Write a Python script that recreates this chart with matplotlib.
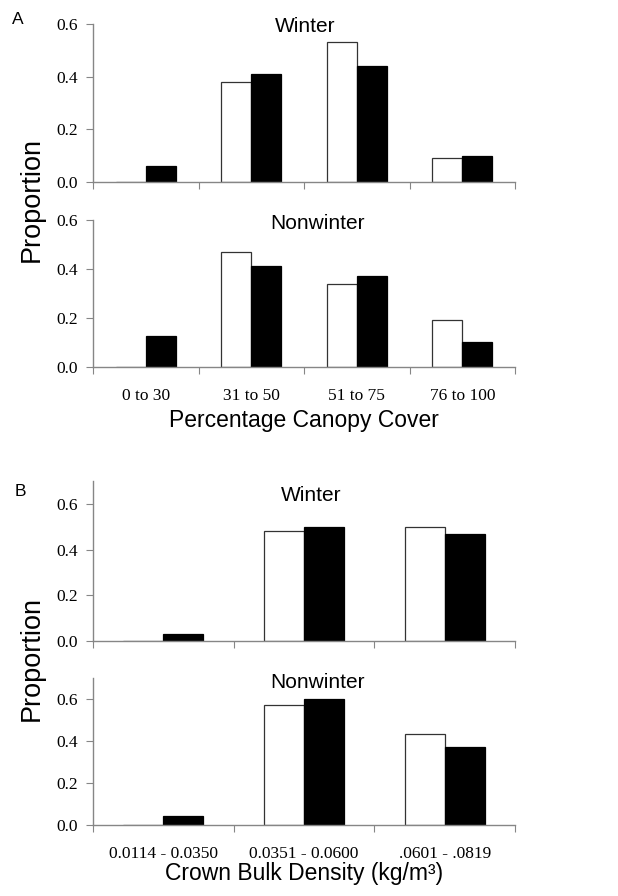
import numpy as np
import matplotlib
matplotlib.use("Agg")
import matplotlib.pyplot as plt

# ---- data ----
canopy_cats = ['0 to 30', '31 to 50', '51 to 75', '76 to 100']
canopy_winter_white = [0.0, 0.38, 0.53, 0.09]
canopy_winter_black = [0.06, 0.41, 0.44, 0.10]
canopy_nonwinter_white = [0.0, 0.47, 0.34, 0.19]
canopy_nonwinter_black = [0.125, 0.41, 0.37, 0.10]

density_cats = ['0.0114 - 0.0350', '0.0351 - 0.0600', '.0601 - .0819']
density_winter_white = [0.0, 0.48, 0.50]
density_winter_black = [0.03, 0.50, 0.47]
density_nonwinter_white = [0.0, 0.57, 0.43]
density_nonwinter_black = [0.04, 0.60, 0.37]

yticks = [0.0, 0.2, 0.4, 0.6]

W, H = 618, 896
fig = plt.figure(figsize=(W / 100, H / 100), dpi=100)

SANS = ['Liberation Sans', 'DejaVu Sans']
SERIF = ['Liberation Serif', 'DejaVu Serif']
SPINE = '#868686'


def axes_px(left, top, right, bottom):
    return fig.add_axes([left / W, 1 - bottom / H, (right - left) / W, (bottom - top) / H])


def panel(ax, cats, white, black, ymax, title, title_x, title_base, show_labels):
    n = len(cats)
    x = np.arange(n)
    bw = 0.285
    ax.bar(x - bw / 2, white, width=bw, color='white', edgecolor='#333333', linewidth=0.9, zorder=2)
    ax.bar(x + bw / 2, black, width=bw, color='black', edgecolor='black', linewidth=0.9, zorder=2)
    ax.set_xlim(-0.5, n - 0.5)
    ax.set_ylim(0, ymax)
    for s in ['top', 'right']:
        ax.spines[s].set_visible(False)
    for s in ['left', 'bottom']:
        ax.spines[s].set_color(SPINE)
        ax.spines[s].set_linewidth(1.0)
    ax.set_yticks(yticks)
    ax.set_yticklabels([f'{v:.1f}' for v in yticks], fontfamily=SERIF, fontsize=12.5)
    ax.tick_params(axis='y', direction='out', length=5, color=SPINE, pad=6)
    ax.set_xticks(np.arange(n + 1) - 0.5)
    ax.set_xticklabels([])
    ax.tick_params(axis='x', which='major', direction='out', length=5, color=SPINE)
    if show_labels:
        ax.set_xticks(x, minor=True)
        ax.set_xticklabels(cats, minor=True, fontfamily=SERIF, fontsize=12.5)
        ax.tick_params(axis='x', which='minor', length=0, pad=15)
    fig.text(title_x / W, 1 - title_base / H, title, ha='center', va='baseline',
             fontfamily=SANS, fontsize=15)


axA1 = axes_px(93, 24, 515, 182)
panel(axA1, canopy_cats, canopy_winter_white, canopy_winter_black, 0.6, 'Winter', 305, 32, False)
axA2 = axes_px(93, 220, 515, 366.7)
panel(axA2, canopy_cats, canopy_nonwinter_white, canopy_nonwinter_black, 0.6, 'Nonwinter', 318, 229, True)

axB1 = axes_px(93, 481.3, 515, 640.7)
panel(axB1, density_cats, density_winter_white, density_winter_black, 0.7, 'Winter', 311, 501, False)
axB2 = axes_px(93, 677.7, 515, 824.7)
panel(axB2, density_cats, density_nonwinter_white, density_nonwinter_black, 0.7, 'Nonwinter', 318, 688, True)

fig.text(304 / W, 1 - 420 / H, 'Percentage Canopy Cover', ha='center', va='center',
         fontfamily=SANS, fontsize=16.5)
fig.text(304 / W, 1 - 873 / H, 'Crown Bulk Density (kg/m³)', ha='center', va='center',
         fontfamily=SANS, fontsize=16.5)

fig.text(32 / W, 1 - 200 / H, 'Proportion', rotation=90, ha='center', va='center',
         fontfamily=SANS, fontsize=19.5)
fig.text(32 / W, 1 - 658 / H, 'Proportion', rotation=90, ha='center', va='center',
         fontfamily=SANS, fontsize=19.5)

fig.text(18 / W, 1 - 19 / H, 'A', ha='center', va='center', fontfamily=SANS, fontsize=12.5)
fig.text(20 / W, 1 - 491 / H, 'B', ha='center', va='center', fontfamily=SANS, fontsize=12.5)

fig.savefig('out.png', dpi=100, facecolor='white')
